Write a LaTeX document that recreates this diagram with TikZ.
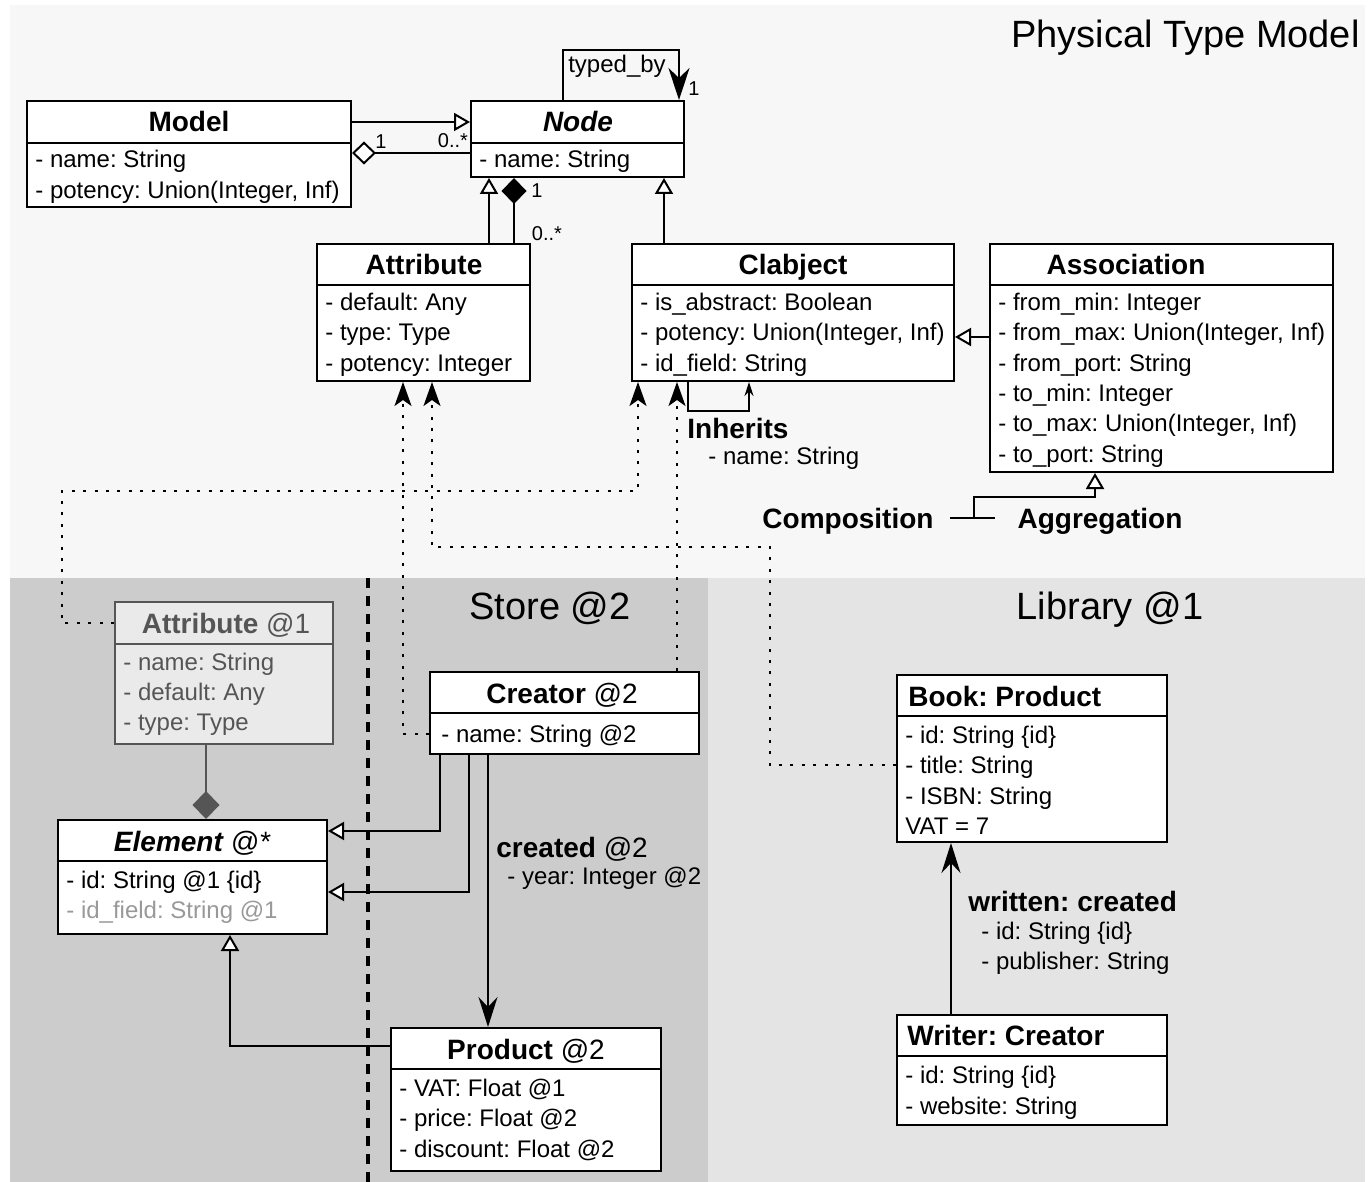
\documentclass[tikz,border=0pt]{standalone}
\usepackage{fontspec}
\setmainfont{Liberation Sans}
\frenchspacing
\usetikzlibrary{arrows.meta,fit}

\definecolor{topbg}{HTML}{F7F7F7}
\definecolor{storebg}{HTML}{CCCCCC}
\definecolor{libbg}{HTML}{E4E4E4}
\definecolor{ghost}{HTML}{555555}
\definecolor{ghostfill}{HTML}{EAEAEA}
\definecolor{faded}{HTML}{999999}

\begin{document}
\begin{tikzpicture}[x=0.5pt, y=-0.5pt,
    cls/.style={draw, line width=1pt, fill=white, inner sep=0pt},
    ghostcls/.style={cls, draw=ghost, fill=ghostfill},
    clstitle/.style={inner sep=0pt, text height=10pt, text depth=0pt, font=\fontsize{14}{16}\selectfont\bfseries},
    attr/.style={anchor=west, inner sep=0pt, text height=8.6pt, text depth=0pt, font=\fontsize{12}{15}\selectfont},
    mult/.style={inner sep=0pt, text height=7.2pt, text depth=0pt, font=\fontsize{10}{12}\selectfont},
    areatitle/.style={inner sep=0pt, text height=13.6pt, text depth=0pt, font=\fontsize{19}{22}\selectfont},
    conn/.style={line width=1pt},
    gen/.style={conn, -{Triangle[fill=white, length=8pt, width=9pt]}},
    assoc/.style={conn, -{Stealth[length=15pt, width=9.5pt, inset=5pt]}},
    comp/.style={conn, arrows={Diamond[length=13pt, width=12.5pt]-}},
    agg/.style={conn, arrows={Diamond[fill=white, length=12pt, width=11.5pt]-}},
    inst/.style={conn, dash pattern=on 1.5pt off 4.2pt, -{Stealth[length=12pt, width=8.5pt, inset=3pt]}},
    levelline/.style={line width=1.7pt, dash pattern=on 5pt off 4pt}]

  \useasboundingbox (0,0) rectangle (1371,1182);
  % Backgrounds
  \fill[white] (0,0) rectangle (1371,1182);
  \fill[topbg] (10,5) rectangle (1365,578);
  \fill[storebg] (10,578) rectangle (708,1182);
  \fill[libbg] (708,578) rectangle (1365,1182);
  \node[areatitle, anchor=east] (ptm) at (1360,34) {Physical Type Model};
  \node[areatitle] (store) at (550,606) {Store @2};
  \node[areatitle] (library) at (1110,606) {Library @1};
  \draw[levelline] (368,578) -- (368,1182);

  % Physical type model
  \node[cls, fit={(27,101) (351,207)}] (model) {};
  \draw[conn] (model.west |- 0,143) -- (model.east |- 0,143);
  \node[clstitle] (model-t) at (189,122) {Model};
  \foreach \txt [count=\i from 0] in {- name: String, {- potency: Union(Integer, Inf)}}
    \node[attr] (model-\i) at (35,159+31*\i) {\txt};

  \node[cls, fit={(471,101) (684,177)}] (nd) {};
  \draw[conn] (nd.west |- 0,143) -- (nd.east |- 0,143);
  \node[clstitle] (nd-t) at (578,122) {\itshape Node};
  \node[attr] (nd-0) at (479,159) {- name: String};

  \node[cls, fit={(317,244) (530,381)}] (attribute) {};
  \draw[conn] (attribute.west |- 0,285) -- (attribute.east |- 0,285);
  \node[clstitle] (attribute-t) at (424,265) {Attribute};
  \foreach \txt [count=\i from 0] in {- default: Any, - type: Type, - potency: Integer}
    \node[attr] (attribute-\i) at (325,302+30.3*\i) {\txt};

  \node[cls, fit={(632,244) (954,381)}] (clabject) {};
  \draw[conn] (clabject.west |- 0,285) -- (clabject.east |- 0,285);
  \node[clstitle] (clabject-t) at (793,265) {Clabject};
  \foreach \txt [count=\i from 0] in {- is\_abstract: Boolean, {- potency: Union(Integer, Inf)}, - id\_field: String}
    \node[attr] (clabject-\i) at (640,302+30.3*\i) {\txt};

  \node[cls, fit={(990,244) (1333,472)}] (association) {};
  \draw[conn] (association.west |- 0,285) -- (association.east |- 0,285);
  \node[clstitle] (association-t) at (1126,265) {Association};
  \foreach \txt [count=\i from 0] in {- from\_min: Integer, {- from\_max: Union(Integer, Inf)}, - from\_port: String,
      - to\_min: Integer, {- to\_max: Union(Integer, Inf)}, - to\_port: String}
    \node[attr] (association-\i) at (998,302+30.3*\i) {\txt};

  % Store @2
  \node[ghostcls, fit={(115,602) (333,744)}] (attrone) {};
  \draw[conn, ghost] (attrone.west |- 0,644) -- (attrone.east |- 0,644);
  \node[clstitle, text=ghost] (attrone-t) at (226,623) {Attribute \mdseries @1};
  \foreach \txt [count=\i from 0] in {- name: String, - default: Any, - type: Type}
    \node[attr, text=ghost] (attrone-\i) at (123,662+30*\i) {\txt};

  \node[cls, fit={(430,672) (699,754)}] (creator) {};
  \draw[conn] (creator.west |- 0,713) -- (creator.east |- 0,713);
  \node[clstitle] (creator-t) at (562,693) {Creator \mdseries @2};
  \node[attr] (creator-0) at (441,734) {- name: String @2};

  \node[cls, fit={(58,820) (327,934)}] (element) {};
  \draw[conn] (element.west |- 0,861) -- (element.east |- 0,861);
  \node[clstitle] (element-t) at (192,841) {\itshape Element \mdseries @*};
  \node[attr] (element-0) at (66,880) {- id: String @1 \{id\}};
  \node[attr, text=faded] (element-1) at (66,910) {- id\_field: String @1};

  \node[cls, fit={(391,1028) (661,1171)}] (product) {};
  \draw[conn] (product.west |- 0,1069) -- (product.east |- 0,1069);
  \node[clstitle] (product-t) at (526,1049) {Product \mdseries @2};
  \foreach \txt [count=\i from 0] in {- VAT: Float @1, - price: Float @2, - discount: Float @2}
    \node[attr] (product-\i) at (399,1088+30.3*\i) {\txt};

  % Library @1
  \node[cls, fit={(897,675) (1167,842)}] (book) {};
  \draw[conn] (book.west |- 0,716) -- (book.east |- 0,716);
  \node[clstitle, anchor=west] (book-t) at (908,696) {Book: Product};
  \foreach \txt [count=\i from 0] in {- id: String \{id\}, - title: String, - ISBN: String, VAT = 7}
    \node[attr] (book-\i) at (905,735+30.2*\i) {\txt};

  \node[cls, fit={(897,1015) (1167,1125)}] (writer) {};
  \draw[conn] (writer.west |- 0,1056) -- (writer.east |- 0,1056);
  \node[clstitle, anchor=west] (writer-t) at (907,1035) {Writer: Creator};
  \foreach \txt [count=\i from 0] in {- id: String \{id\}, - website: String}
    \node[attr] (writer-\i) at (905,1075+30.5*\i) {\txt};

  % Instance-of links
  \draw[inst] (attrone.west |- 0,623) -| (62,491) -| (clabject.south -| 638,0);
  \draw[inst] (creator.west |- 0,734) -| (attribute.south -| 403,0);
  \draw[inst] (creator.north -| 677,0) -- (clabject.south -| 677,0);
  \draw[inst] (book.west |- 0,765) -| (770,547) -| (attribute.south -| 432,0);

  % Physical type model relations
  \draw[gen] (model.east |- 0,122) -- (nd.west |- 0,122);
  \draw[agg] (model.east |- 0,153) -- (nd.west |- 0,153);
  \node[mult] (agg-1) at (381,141) {1};
  \node[mult] (agg-n) at (453,140) {0..*};
  \draw[conn, -{Stealth[length=16pt, width=10.5pt, inset=5pt]}] (nd.north -| 563,0) |- (679,50) -- (nd.north -| 679,0);
  \node[attr, anchor=center] (typedby) at (617,64) {typed\_by};
  \node[mult] (typed-1) at (694,88) {1};
  \draw[gen] (attribute.north -| 489,0) -- (nd.south -| 489,0);
  \draw[comp] (nd.south -| 514,0) -- (attribute.north -| 514,0);
  \node[mult] (comp-1) at (537,190) {1};
  \node[mult] (comp-n) at (547,233) {0..*};
  \draw[gen] (clabject.north -| 664,0) -- (nd.south -| 664,0);
  \draw[gen] (association.west |- 0,337) -- (clabject.east |- 0,337);
  \draw[line width=0.8pt, -{Stealth[length=7pt, width=4.5pt]}] (clabject.south -| 688,0) |- (749,411) -- (clabject.south -| 749,0);
  \node[clstitle, anchor=west] (inherits) at (687,428) {Inherits};
  \node[attr] (inherits-0) at (708,456) {- name: String};

  \node[clstitle] (composition) at (848,518) {Composition};
  \node[clstitle] (aggregation) at (1100,518) {Aggregation};
  \coordinate (split-l) at (950,518);
  \coordinate (split-r) at (995,518);
  \coordinate (split) at (974,518);
  \draw[conn] (split-l) -- (split-r);
  \draw[gen] (split) |- (1095,497) -- (association.south -| 1095,0);

  % Store relations
  \draw[conn, color=ghost, -{Diamond[fill=ghost, length=14pt, width=13.5pt]}] (attrone.south -| 206,0) -- (element.north -| 206,0);
  \draw[gen] (creator.south -| 440,0) |- (element.east |- 0,831);
  \draw[gen] (creator.south -| 469,0) |- (element.east |- 0,892);
  \draw[assoc] (creator.south -| 488,0) -- (product.north -| 488,0);
  \node[clstitle, anchor=west] (created) at (496,847) {created \mdseries @2};
  \node[attr] (created-0) at (507,876) {- year: Integer @2};
  \draw[gen] (product.west |- 0,1046) -| (element.south -| 230,0);

  % Library relations
  \draw[assoc] (writer.north -| 951,0) -- (book.south -| 951,0);
  \node[clstitle, anchor=west] (written) at (968,901) {written: created};
  \node[attr] (written-0) at (981,931) {- id: String \{id\}};
  \node[attr] (written-1) at (981,961) {- publisher: String};
\end{tikzpicture}
\end{document}
